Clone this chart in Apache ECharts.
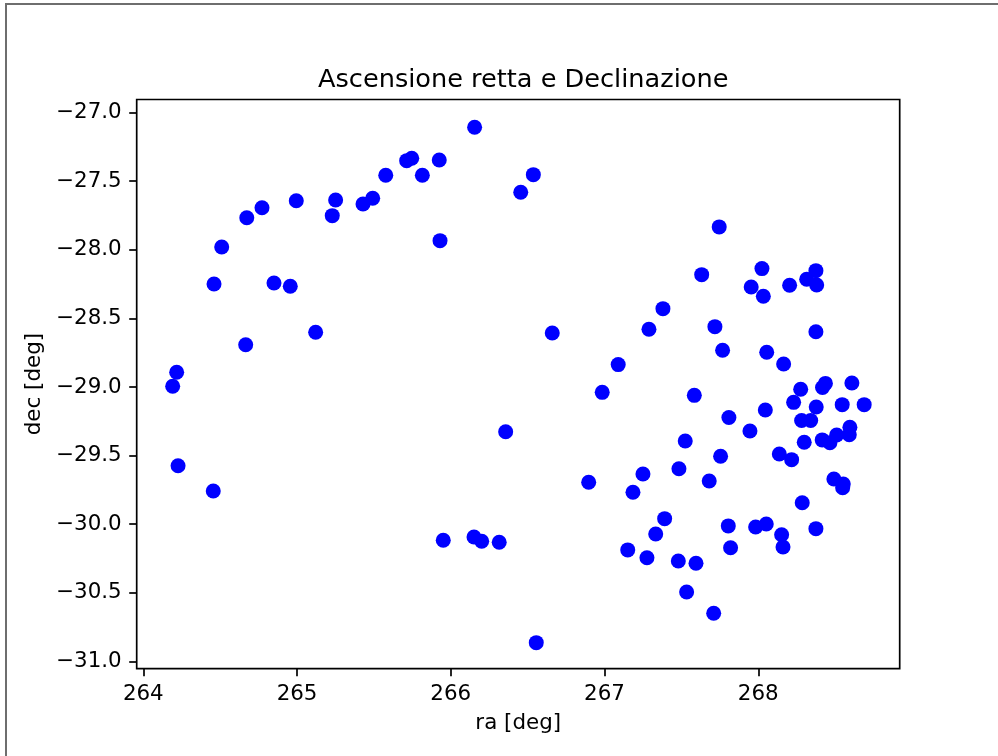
<!DOCTYPE html>
<html>
<head>
<meta charset="utf-8">
<script src="https://cdn.jsdelivr.net/npm/echarts@6/dist/echarts.min.js"></script>
<style>
  html, body { margin: 0; padding: 0; background: #ffffff; }
  #wrap { position: relative; width: 998px; height: 756px; overflow: hidden; }
  #frame { position: absolute; left: 5px; top: 3px; width: 1000px; height: 800px;
           border-left: 2px solid #6e6e6e; border-top: 2px solid #6e6e6e; }
  #chart { position: absolute; left: 0; top: 0; width: 998px; height: 756px; }
</style>
</head>
<body>
<div id="wrap">
  <div id="frame"></div>
  <div id="chart"></div>
</div>
<script>
// Right ascension of each source [deg]
const ra = [
  264.191, 264.217, 264.226, 264.455, 264.460, 264.510, 264.673, 264.666, 264.772, 264.850,
  264.956, 264.995, 265.121, 265.229, 265.251, 265.429, 265.492, 265.577, 265.713, 265.746,
  265.815, 265.925, 265.930, 266.155, 266.455, 266.537, 266.660, 266.357, 265.951, 266.151,
  266.201, 266.315, 266.556, 266.897, 266.985, 267.089, 267.151, 267.185, 267.250, 267.276,
  267.289, 267.333, 267.380, 267.391, 267.484, 267.480, 267.525, 267.534, 267.584, 267.595,
  267.632, 267.681, 267.710, 267.718, 267.746, 267.755, 267.768, 267.809, 267.805, 267.820,
  267.946, 267.954, 267.983, 268.024, 268.033, 268.046, 268.055, 268.052, 268.137, 268.152,
  268.161, 268.165, 268.204, 268.217, 268.230, 268.276, 268.286, 268.282, 268.341, 268.299,
  268.315, 268.375, 268.380, 268.375, 268.375, 268.377, 268.416, 268.437, 268.418, 268.466,
  268.510, 268.596, 268.592, 268.609, 268.546, 268.689, 268.492, 268.553, 268.549
];

// Declination of each source [deg]
const dec = [
  -28.995, -28.893, -29.574, -29.758, -28.249, -27.979, -27.766, -28.692, -27.693, -28.242,
  -28.266, -27.642, -28.601, -27.751, -27.637, -27.666, -27.624, -27.456, -27.350, -27.332,
  -27.456, -27.345, -27.933, -27.106, -27.580, -27.452, -28.606, -29.326, -30.118, -30.094,
  -30.125, -30.132, -30.864, -29.695, -29.039, -28.837, -30.188, -29.768, -29.634, -30.245,
  -28.579, -30.072, -28.429, -29.960, -29.596, -30.269, -29.394, -30.495, -29.061, -30.285,
  -28.181, -29.685, -30.650, -28.560, -27.833, -29.505, -28.732, -29.222, -30.013, -30.172,
  -29.321, -28.271, -30.021, -28.137, -28.339, -29.168, -28.747, -29.999, -29.489, -30.077,
  -30.167, -28.832, -28.258, -29.530, -29.112, -29.017, -29.844, -29.244, -29.244, -29.403,
  -28.215, -28.152, -28.256, -28.597, -30.033, -29.146, -29.386, -28.974, -29.004, -29.406,
  -29.350, -29.294, -29.348, -28.971, -29.129, -29.129, -29.671, -29.707, -29.734
];

// Tick positions on each axis
const xTicks = [264, 265, 266, 267, 268];
const yTicks = [-31.0, -30.5, -30.0, -29.5, -29.0, -28.5, -28.0, -27.5, -27.0];

const titleText = 'Ascensione retta e Declinazione';
const xName = 'ra [deg]';
const yName = 'dec [deg]';

const FONT = '"DejaVu Sans", sans-serif';
const minus = s => s.replace('-', '\u2212');

// Plot box (pixels from the canvas edges)
const GRID = { left: 136.7, top: 99.5, right: 98.3, bottom: 87.3 };
const plotCenterX = GRID.left + (998 - GRID.left - GRID.right) / 2;

const points = ra.map((r, i) => [r, dec[i]]);

const chart = echarts.init(document.getElementById('chart'), null, { renderer: 'canvas' });
chart.setOption({
  animation: false,
  backgroundColor: 'transparent',
  title: {
    text: titleText,
    left: plotCenterX,
    textAlign: 'center',
    top: 62,
    textStyle: { fontFamily: FONT, fontSize: 25.6, fontWeight: 'normal', color: '#000' }
  },
  grid: Object.assign({
    show: true, borderColor: '#000', borderWidth: 1.7, backgroundColor: 'transparent'
  }, GRID),
  xAxis: {
    type: 'value',
    min: 263.957, max: 268.920,
    name: xName, nameLocation: 'middle', nameGap: 44,
    nameTextStyle: { fontFamily: FONT, fontSize: 21.4, color: '#000' },
    axisLine: { show: false },
    splitLine: { show: false },
    axisTick: { show: true, inside: false, length: 7.5, customValues: xTicks,
                lineStyle: { color: '#000', width: 1.7 } },
    axisLabel: { customValues: xTicks, margin: 15, fontFamily: FONT, fontSize: 21.4, color: '#000',
                 formatter: v => String(Math.round(v)) }
  },
  yAxis: {
    type: 'value',
    min: -31.054, max: -26.904,
    name: yName, nameLocation: 'middle', nameGap: 92, nameRotate: 90,
    nameTextStyle: { fontFamily: FONT, fontSize: 21.4, color: '#000' },
    axisLine: { show: false },
    splitLine: { show: false },
    axisTick: { show: true, inside: false, length: 7.5, customValues: yTicks,
                lineStyle: { color: '#000', width: 1.7 } },
    axisLabel: { customValues: yTicks, margin: 15, fontFamily: FONT, fontSize: 21.4, color: '#000',
                 formatter: v => minus(v.toFixed(1)) }
  },
  series: [{
    type: 'scatter',
    data: points,
    symbol: 'circle',
    symbolSize: 15,
    itemStyle: { color: '#0000ff', opacity: 1 },
    emphasis: { disabled: true }
  }]
});
</script>
</body>
</html>
